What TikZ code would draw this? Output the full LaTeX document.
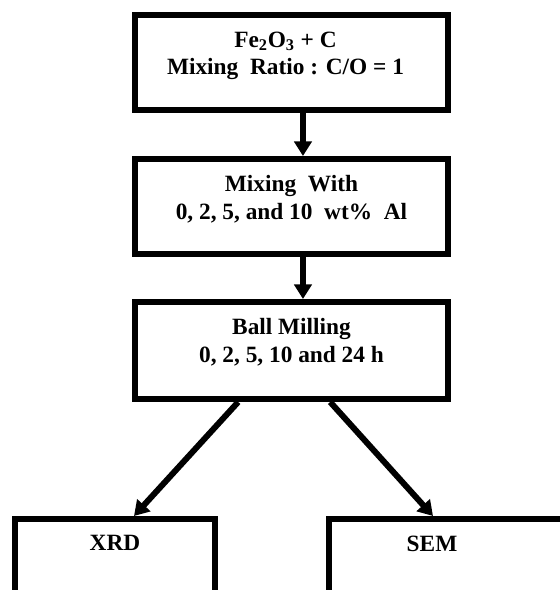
\documentclass[tikz,border=0pt]{standalone}
\usepackage{fontspec}
\setmainfont{Liberation Serif}
\usetikzlibrary{arrows.meta, positioning}

\begin{document}
\begin{tikzpicture}[
    x=0.75pt, y=-0.75pt,
    box/.style={rectangle, draw, line width=4.5pt, minimum width=234.75pt, minimum height=71.25pt},
    lbl/.style={align=center, inner sep=0pt, font=\fontsize{17.5}{20.5}\selectfont\bfseries},
    arrow/.style={-{Triangle[length=11pt, width=13pt]}, line width=4.5pt}
]
\clip (0,0) rectangle (560,590);
\node[box] (mix) at (291.5,62.5) {};
\node[box] (addal) at (291.5,206.5) {};
\node[box, minimum height=72.75pt] (mill) at (291.5,350.5) {};
\node[box, minimum width=150pt] (xrd) at (115,566.5) {};
\node[box, minimum width=180pt] (sem) at (449,566.5) {};
% box texts
\node[lbl, below=14.5pt of mix.north, xshift=-4.5pt] (mixtxt) {Fe\textsubscript{2}O\textsubscript{3} + C\\Mixing~ Ratio : C/O = 1};
\node[lbl, below=14.5pt of addal.north] (addaltxt) {Mixing~ With\\0, 2, 5, and 10~ wt\%~ Al};
\node[lbl, below=14.5pt of mill.north] (milltxt) {Ball Milling\\0, 2, 5, 10 and 24 h};
\node[lbl, below=14.5pt of xrd.north] (xrdtxt) {XRD};
\node[lbl, below=14.5pt of sem.north, xshift=-12.75pt] (semtxt) {SEM};
% arrows
\draw[arrow] ([xshift=8.6pt]mix.south) -- ([xshift=8.6pt]addal.north);
\draw[arrow] ([xshift=8.6pt]addal.south) -- ([xshift=8.6pt]mill.north);
\draw[arrow] ([xshift=-40pt]mill.south) -- ([xshift=14.25pt]xrd.north);
\draw[arrow] ([xshift=29pt]mill.south) -- ([xshift=-12pt]sem.north);
\end{tikzpicture}
\end{document}
